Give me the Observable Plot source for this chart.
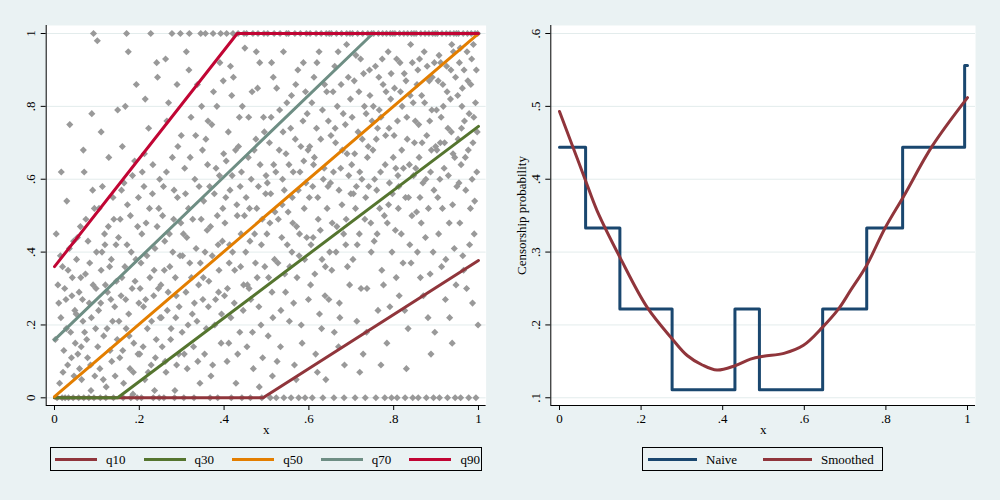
<!DOCTYPE html>
<html>
<head>
<meta charset="utf-8">
<script src="https://cdn.jsdelivr.net/npm/d3@7"></script>
<script src="https://cdn.jsdelivr.net/npm/@observablehq/plot@0.6"></script>
<style>
  html, body { margin: 0; padding: 0; background: #EAF2F3; }
  #root { position: relative; width: 1000px; height: 500px; background: #EAF2F3; overflow: hidden;
          font-family: "Liberation Serif", "DejaVu Serif", serif; }
  .panel { position: absolute; top: 0; }
  .legend { position: absolute; border: 1px solid #000; box-sizing: border-box; }
  .sw { position: absolute; height: 3px; }
  .lab { position: absolute; font-size: 13px; line-height: 13px; color: #000; white-space: nowrap; }
</style>
</head>
<body>
<div id="root"></div>
<script>
// ---------- data ----------
const scatterPoints = [
[.004,.45],[.008,.31],[.012,.04],[.015,.22],[.019,.36],[.022,.13],[.027,.27],[.031,.09],[.035,.41],[.038,.18],[.042,.33],[.046,.06],[.029,.54],[.036,.75],[.048,.24],[.006,0],[.018,0],[.025,0],[.033,0],[.044,0],
[.052,.38],[.055,.12],[.058,.29],[.061,.47],[.064,.05],[.067,.21],[.07,.62],[.073,.34],[.076,.16],[.079,.43],[.082,.26],[.085,.09],[.088,.78],[.091,.31],[.094,.52],[.097,.19],[.099,.40],[.063,.14],[.086,.02],[.057,0],[.069,0],[.081,0],[.093,0],
[.101,.98],[.104,.24],[.107,.08],[.11,.35],[.113,.58],[.116,.17],[.119,.42],[.122,.03],[.125,.29],[.128,.66],[.131,.13],[.134,.38],[.137,.21],[.14,.49],[.143,.06],[.146,.32],[.149,.79],[.118,.45],[.133,.27],[.108,0],[.121,0],[.139,0],[.092,1],
[.151,.44],[.154,.11],[.157,.28],[.16,.69],[.163,.04],[.166,.36],[.169,.19],[.172,.53],[.175,.23],[.178,.08],[.181,.40],[.184,.61],[.187,.15],[.19,.32],[.193,.86],[.196,.47],[.199,.26],[.158,.57],[.174,.95],[.185,.01],[.162,0],[.18,0],[.195,0],[.17,1],
[.201,.12],[.204,.37],[.207,.62],[.21,.25],[.213,.05],[.216,.48],[.219,.19],[.222,.74],[.225,.33],[.228,.09],[.231,.56],[.234,.28],[.237,.41],[.24,.16],[.243,.88],[.246,.52],[.249,.22],[.212,.67],[.236,.02],[.227,1],[.205,0],[.233,0],[.247,0],
[.251,.31],[.254,.14],[.257,.58],[.26,.43],[.263,.07],[.266,.24],[.269,.81],[.272,.36],[.275,.19],[.278,.66],[.281,.49],[.284,.02],[.287,.28],[.29,.55],[.293,.12],[.296,.39],[.299,.72],[.262,.93],[.286,.22],[.277,1],[.297,1],[.258,0],[.283,0],
[.301,.18],[.304,.45],[.307,.63],[.31,.29],[.313,.08],[.316,.52],[.319,.37],[.322,.77],[.325,.23],[.328,.14],[.331,.60],[.334,.41],[.337,.86],[.34,.31],[.343,.04],[.346,.49],[.349,.68],[.311,.95],[.336,.21],[.318,1],[.345,1],[.305,0],[.329,0],
[.351,.33],[.354,.12],[.357,.71],[.36,.46],[.363,.25],[.366,.58],[.369,.06],[.372,.39],[.375,.84],[.378,.20],[.381,.63],[.384,.50],[.387,.29],[.39,.92],[.393,.15],[.396,.43],[.399,.67],[.362,.76],[.388,.35],[.356,1],[.374,1],[.392,1],[.367,0],[.385,0],
[.401,.28],[.404,.55],[.407,.10],[.41,.73],[.413,.42],[.416,.22],[.419,.61],[.422,.88],[.425,.35],[.428,.04],[.431,.50],[.434,.69],[.437,.18],[.44,.45],[.443,.80],[.446,.31],[.449,.96],[.412,.37],[.438,.58],[.406,1],[.421,1],[.433,1],[.447,1],[.417,0],[.442,0],
[.451,.40],[.454,.14],[.457,.66],[.46,.52],[.463,.27],[.466,.84],[.469,.08],[.472,.45],[.475,.71],[.478,.33],[.481,.58],[.484,.92],[.487,.20],[.49,.49],[.493,.77],[.496,.36],[.499,.61],[.459,.30],[.483,.03],[.453,1],[.468,1],[.48,1],[.494,1],[.462,0],[.489,0],
[.501,.45],[.504,.17],[.507,.70],[.51,.56],[.513,.29],[.516,.88],[.519,.38],[.522,.62],[.525,.10],[.528,.49],[.531,.79],[.534,.24],[.537,.53],[.54,.95],[.543,.34],[.546,.67],[.549,.42],[.514,.06],[.538,.60],[.503,1],[.518,1],[.532,1],[.547,1],[.509,0],[.523,0],[.541,0],
[.551,.51],[.554,.21],[.557,.74],[.56,.40],[.563,.62],[.566,.09],[.569,.86],[.572,.33],[.575,.57],[.578,.45],[.581,.69],[.584,.15],[.587,.92],[.59,.38],[.593,.59],[.596,.78],[.599,.27],[.562,.48],[.588,.65],[.552,1],[.567,1],[.58,1],[.594,1],[.558,0],[.576,0],[.591,0],
[.601,.55],[.604,.31],[.607,.81],[.61,.44],[.613,.66],[.616,.12],[.619,.92],[.622,.49],[.625,.23],[.628,.71],[.631,.38],[.634,.60],[.637,.86],[.64,.05],[.643,.52],[.646,.76],[.649,.40],[.611,.64],[.638,.28],[.603,1],[.617,1],[.629,1],[.641,1],[.648,1],[.608,0],[.633,0],
[.651,.59],[.654,.35],[.657,.84],[.66,.18],[.663,.70],[.666,.47],[.669,.95],[.672,.26],[.675,.63],[.678,.53],[.681,.78],[.684,.09],[.687,.42],[.69,.67],[.693,.88],[.696,.31],[.699,.56],[.662,.74],[.688,.49],[.653,1],[.665,1],[.677,1],[.689,1],[.697,1],[.659,0],[.683,0],
[.701,.64],[.704,.38],[.707,.87],[.71,.52],[.713,.21],[.716,.73],[.719,.45],[.722,.93],[.725,.60],[.728,.12],[.731,.80],[.734,.55],[.737,.30],[.74,.69],[.743,.90],[.746,.48],[.749,.76],[.712,.58],[.738,.66],[.703,1],[.715,1],[.727,1],[.739,1],[.748,1],[.709,0],[.733,0],
[.751,.68],[.754,.43],[.757,.91],[.76,.57],[.763,.24],[.766,.79],[.769,.62],[.772,.35],[.775,.86],[.778,.50],[.781,.72],[.784,.15],[.787,.95],[.79,.59],[.793,.82],[.796,.40],[.799,.66],[.762,.74],[.788,.53],[.753,1],[.764,1],[.774,1],[.783,1],[.792,1],[.798,1],[.758,0],[.779,0],[.795,0],
[.801,.72],[.804,.46],[.807,.93],[.81,.61],[.813,.28],[.816,.84],[.819,.68],[.822,.37],[.825,.89],[.828,.55],[.831,.77],[.834,.19],[.837,.64],[.84,.97],[.843,.50],[.846,.81],[.849,.70],[.812,.58],[.838,.42],[.803,1],[.814,1],[.824,1],[.833,1],[.842,1],[.848,1],[.808,0],[.827,0],[.845,0],
[.851,.76],[.854,.51],[.857,.90],[.86,.66],[.863,.33],[.866,.83],[.869,.59],[.872,.95],[.875,.44],[.878,.72],[.881,.22],[.884,.87],[.887,.62],[.89,.79],[.893,.40],[.896,.92],[.899,.69],[.862,.55],[.888,.12],[.853,1],[.864,1],[.874,1],[.883,1],[.892,1],[.898,1],[.858,0],[.877,0],[.894,0],
[.901,.79],[.904,.55],[.907,.94],[.91,.70],[.913,.36],[.916,.86],[.919,.63],[.922,.27],[.925,.91],[.928,.74],[.931,.48],[.934,.82],[.937,.97],[.94,.67],[.943,.41],[.946,.88],[.949,.58],[.912,.77],[.938,.15],[.903,1],[.914,1],[.924,1],[.933,1],[.942,1],[.948,1],[.908,0],[.927,0],[.945,0],
[.951,.83],[.954,.59],[.957,.96],[.96,.74],[.963,.39],[.966,.90],[.969,.66],[.972,.30],[.975,.87],[.978,.78],[.981,.52],[.984,.93],[.987,.70],[.99,.45],[.993,.81],[.996,.62],[.999,.20],[.962,.85],[.988,.97],[.953,1],[.964,1],[.974,1],[.983,1],[.992,1],[.998,1],[.958,0],[.977,0],[.994,0],
[.002,.16],[.01,.26],[.014,.39],[.02,.07],[.024,.30],[.028,.19],[.032,.35],[.04,.11],[.045,.43],[.049,.15],[.016,.62],[.041,.28],
[.051,.23],[.054,.44],[.059,.08],[.062,.33],[.066,.27],[.071,.18],[.074,.49],[.078,.11],[.083,.37],[.087,.22],[.09,.57],[.095,.06],[.098,.30],[.068,.68],
[.102,.14],[.105,.52],[.109,.26],[.112,.40],[.115,.05],[.12,.31],[.124,.19],[.127,.47],[.13,.36],[.135,.10],[.138,.55],[.142,.25],[.145,.42],[.148,.16],[.11,.73],
[.152,.21],[.155,.49],[.159,.33],[.161,.13],[.164,.59],[.168,.27],[.171,.42],[.176,.17],[.179,.50],[.183,.30],[.186,.07],[.189,.65],[.192,.38],[.197,.12],[.198,.55],[.167,.80],
[.202,.30],[.206,.45],[.209,.14],[.211,.58],[.215,.27],[.218,.39],[.221,.07],[.224,.52],[.229,.21],[.232,.64],[.235,.35],[.238,.11],[.242,.47],[.245,.30],[.248,.60],[.214,.82],[.241,.92],
[.252,.22],[.255,.50],[.259,.35],[.261,.10],[.264,.62],[.268,.29],[.271,.45],[.274,.16],[.279,.40],[.282,.57],[.285,.33],[.288,.09],[.291,.69],[.294,.25],[.298,.48],[.265,.76],[.289,.86],
[.302,.39],[.306,.12],[.309,.56],[.312,.44],[.315,.20],[.32,.66],[.323,.33],[.326,.49],[.33,.26],[.333,.72],[.338,.10],[.341,.58],[.344,.37],[.347,.80],[.35,.27],[.317,.90],
[.352,.54],[.355,.40],[.358,.19],[.361,.64],[.364,.32],[.368,.47],[.371,.75],[.373,.09],[.377,.56],[.38,.27],[.383,.80],[.386,.42],[.389,.61],[.394,.23],[.397,.52],[.398,.87],
[.402,.48],[.405,.65],[.408,.30],[.411,.15],[.414,.57],[.418,.83],[.42,.40],[.424,.26],[.427,.68],[.43,.53],[.432,.12],[.436,.77],[.439,.36],[.441,.62],[.445,.24],[.448,.50],[.415,.91],
[.452,.55],[.455,.31],[.458,.77],[.461,.43],[.464,.60],[.467,.18],[.471,.68],[.474,.37],[.477,.52],[.479,.85],[.482,.25],[.485,.64],[.488,.42],[.491,.11],[.495,.73],[.498,.56],[.476,.95],
[.502,.59],[.505,.33],[.508,.48],[.511,.77],[.515,.22],[.517,.64],[.52,.51],[.524,.85],[.527,.37],[.53,.68],[.533,.14],[.536,.44],[.539,.73],[.542,.57],[.545,.29],[.548,.81],[.512,.92],
[.553,.64],[.555,.36],[.559,.83],[.561,.55],[.564,.26],[.568,.71],[.571,.47],[.574,.90],[.577,.39],[.579,.62],[.582,.20],[.586,.76],[.589,.52],[.592,.84],[.595,.44],[.598,.68],[.57,.05],
[.602,.69],[.605,.42],[.609,.58],[.612,.88],[.614,.34],[.618,.74],[.621,.55],[.624,.95],[.627,.46],[.63,.19],[.632,.79],[.636,.63],[.639,.36],[.642,.84],[.645,.58],[.647,.27],[.62,.07],
[.652,.72],[.655,.48],[.658,.62],[.661,.91],[.664,.40],[.667,.80],[.671,.57],[.673,.22],[.676,.86],[.679,.68],[.682,.45],[.686,.75],[.689,.97],[.691,.36],[.694,.61],[.698,.82],[.67,.14],
[.702,.77],[.705,.56],[.708,.67],[.711,.94],[.714,.42],[.718,.84],[.72,.62],[.723,.30],[.726,.71],[.729,.89],[.732,.49],[.735,.78],[.736,.18],[.741,.58],[.744,.83],[.747,.40],[.72,.07],
[.752,.80],[.755,.60],[.759,.71],[.761,.45],[.765,.88],[.767,.52],[.77,.77],[.773,.93],[.776,.31],[.78,.64],[.782,.84],[.785,.48],[.789,.74],[.791,.25],[.794,.89],[.797,.56],[.77,.09],
[.802,.85],[.805,.63],[.806,.33],[.809,.76],[.811,.52],[.815,.92],[.818,.45],[.82,.80],[.823,.63],[.826,.24],[.829,.87],[.832,.71],[.835,.55],[.839,.83],[.841,.37],[.844,.92],[.847,.61],[.83,.08],
[.852,.63],[.855,.86],[.856,.40],[.859,.75],[.861,.93],[.865,.48],[.867,.70],[.87,.28],[.873,.81],[.876,.60],[.879,.91],[.882,.52],[.885,.76],[.886,.34],[.889,.68],[.891,.88],[.895,.57],[.897,.18],
[.902,.68],[.905,.87],[.906,.45],[.909,.60],[.911,.92],[.915,.52],[.917,.80],[.92,.70],[.923,.38],[.926,.84],[.929,.61],[.932,.22],[.935,.90],[.936,.73],[.939,.53],[.941,.95],[.944,.66],[.947,.31],
[.952,.71],[.955,.92],[.956,.48],[.959,.64],[.961,.80],[.965,.35],[.967,.76],[.97,.57],[.973,.95],[.976,.68],[.979,.42],[.982,.86],[.985,.60],[.986,.26],[.989,.77],[.991,.54],[.995,.90],[.997,.73]
];

const quantileNames = ["q10", "q30", "q50", "q70", "q90"];
const q10X = [0, 0.492, 1],  q10Y = [0, 0, 0.377];
const q30X = [0, 0.149, 1],  q30Y = [0, 0, 0.745];
const q50X = [0, 1],         q50Y = [0.003, 1];
const q70X = [0, 0.751, 1],  q70Y = [0.159, 1, 1];
const q90X = [0, 0.431, 1],  q90Y = [0.36, 1, 1];

const naiveX = [0, 0.064, 0.148, 0.276, 0.43, 0.49, 0.645, 0.753, 0.841, 0.993, 1];
const naiveY = [0.444, 0.333, 0.222, 0.111, 0.222, 0.111, 0.222, 0.333, 0.444, 0.556, 0.556];

const smoothX = [0, 0.031, 0.064, 0.092, 0.148, 0.215, 0.276, 0.313, 0.35, 0.386, 0.43, 0.468, 0.5, 0.55, 0.598, 0.645, 0.684, 0.713, 0.753, 0.798, 0.844, 0.913, 1];
const smoothY = [0.493, 0.447, 0.398, 0.357, 0.293, 0.224, 0.181, 0.158, 0.145, 0.138, 0.144, 0.153, 0.157, 0.161, 0.172, 0.197, 0.222, 0.247, 0.282, 0.333, 0.377, 0.445, 0.512];

const leftXTicks = [0, 0.2, 0.4, 0.6, 0.8, 1];
const leftYTicks = [0, 0.2, 0.4, 0.6, 0.8, 1];
const rightXTicks = [0, 0.2, 0.4, 0.6, 0.8, 1];
const rightYTicks = [0.1, 0.2, 0.3, 0.4, 0.5, 0.6];
const seriesNames = ["Naive", "Smoothed"];

// ---------- styling ----------
const GRID = "#E3ECEC";
const DOT = "#999999";
const qColors = ["#90353B", "#55752F", "#E37E00", "#6E8E84", "#C10534"];
const rColors = ["#1A476F", "#90353B"];
const FONT = "'Liberation Serif', 'DejaVu Serif', serif";

const fmt = d => d === 0 ? "0" : d === 1 ? "1" : d3.format(".1f")(d).replace(/^0/, "");
const style = { background: "transparent", fontFamily: FONT, fontSize: "13px", color: "black", overflow: "visible" };

const root = document.getElementById("root");

// ---------- left panel ----------
const lxDom = [-0.0196, 1.018];
const lyDom = [-0.0211, 1.022];
const qSeries = [[q10X, q10Y], [q30X, q30Y], [q50X, q50Y], [q70X, q70Y], [q90X, q90Y]];

const left = Plot.plot({
  width: 500, height: 440,
  marginLeft: 45.7, marginRight: 14.4, marginTop: 25, marginBottom: 35,
  style,
  x: { domain: lxDom },
  y: { domain: lyDom },
  marks: [
    Plot.frame({ fill: "white", stroke: "none" }),
    Plot.ruleY(leftYTicks, { stroke: GRID, strokeWidth: 1 }),
    Plot.dot(scatterPoints, { x: d => d[0], y: d => d[1], symbol: "diamond2", r: 3.2, fill: DOT }),
    ...qSeries.map(([xs, ys], i) =>
      Plot.line(d3.zip(xs, ys), { x: d => d[0], y: d => d[1], stroke: qColors[i], strokeWidth: 3 })),
    Plot.ruleX([lxDom[0]], { stroke: "black", strokeWidth: 1 }),
    Plot.ruleY([lyDom[0]], { stroke: "black", strokeWidth: 1 }),
    Plot.axisX({ ticks: leftXTicks, tickFormat: fmt, tickSize: 5, tickPadding: 3, label: null }),
    Plot.axisY({ ticks: leftYTicks, tickFormat: () => "", tickSize: 5, label: null }),
    Plot.text(leftYTicks, { y: d => d, text: fmt, frameAnchor: "left", textAnchor: "middle", lineAnchor: "middle", dx: -15.7, rotate: -90, fontSize: 13 }),
    Plot.text(["x"], { frameAnchor: "bottom", dy: 28, fontSize: 13 })
  ]
});
left.classList.add("panel");
left.style.left = "0px";
root.appendChild(left);

// ---------- right panel ----------
const rxDom = [-0.0213, 1.0196];
const ryDom = [0.0894, 0.611];

const right = Plot.plot({
  width: 500, height: 440,
  marginLeft: 50.3, marginRight: 25, marginTop: 25, marginBottom: 35,
  style,
  x: { domain: rxDom },
  y: { domain: ryDom },
  marks: [
    Plot.frame({ fill: "white", stroke: "none" }),
    Plot.ruleY(rightYTicks, { stroke: GRID, strokeWidth: 1 }),
    Plot.line(d3.zip(naiveX, naiveY), { x: d => d[0], y: d => d[1], curve: "step-after", stroke: rColors[0], strokeWidth: 3 }),
    Plot.line(d3.zip(smoothX, smoothY), { x: d => d[0], y: d => d[1], curve: "catmull-rom", stroke: rColors[1], strokeWidth: 3 }),
    Plot.ruleX([rxDom[0]], { stroke: "black", strokeWidth: 1 }),
    Plot.ruleY([ryDom[0]], { stroke: "black", strokeWidth: 1 }),
    Plot.axisX({ ticks: rightXTicks, tickFormat: fmt, tickSize: 5, tickPadding: 3, label: null }),
    Plot.axisY({ ticks: rightYTicks, tickFormat: () => "", tickSize: 5, label: null }),
    Plot.text(rightYTicks, { y: d => d, text: fmt, frameAnchor: "left", textAnchor: "middle", lineAnchor: "middle", dx: -15.3, rotate: -90, fontSize: 13 }),
    Plot.text(["Censorship probability"], { frameAnchor: "left", textAnchor: "middle", lineAnchor: "middle", dx: -29.3, rotate: -90, fontSize: 13 }),
    Plot.text(["x"], { frameAnchor: "bottom", dy: 28, fontSize: 13 })
  ]
});
right.classList.add("panel");
right.style.left = "500px";
root.appendChild(right);

// ---------- legends ----------
function legend(names, colors, boxLeft, boxWidth, swatchStart, step, swatchW) {
  const box = document.createElement("div");
  box.className = "legend";
  box.style.left = boxLeft + "px";
  box.style.top = "447px";
  box.style.width = boxWidth + "px";
  box.style.height = "24px";
  root.appendChild(box);
  names.forEach((name, i) => {
    const sx = swatchStart + step * i;
    const sw = document.createElement("div");
    sw.className = "sw";
    sw.style.left = sx + "px";
    sw.style.top = "458px";
    sw.style.width = swatchW + "px";
    sw.style.background = colors[i];
    root.appendChild(sw);
    const lab = document.createElement("div");
    lab.className = "lab";
    lab.style.left = (sx + swatchW + 9) + "px";
    lab.style.top = "453px";
    lab.textContent = name;
    root.appendChild(lab);
  });
}
legend(quantileNames, qColors, 50, 432, 55, 88.6, 42);
legend(seriesNames, rColors, 642, 241, 648, 115, 49);
</script>
</body>
</html>
